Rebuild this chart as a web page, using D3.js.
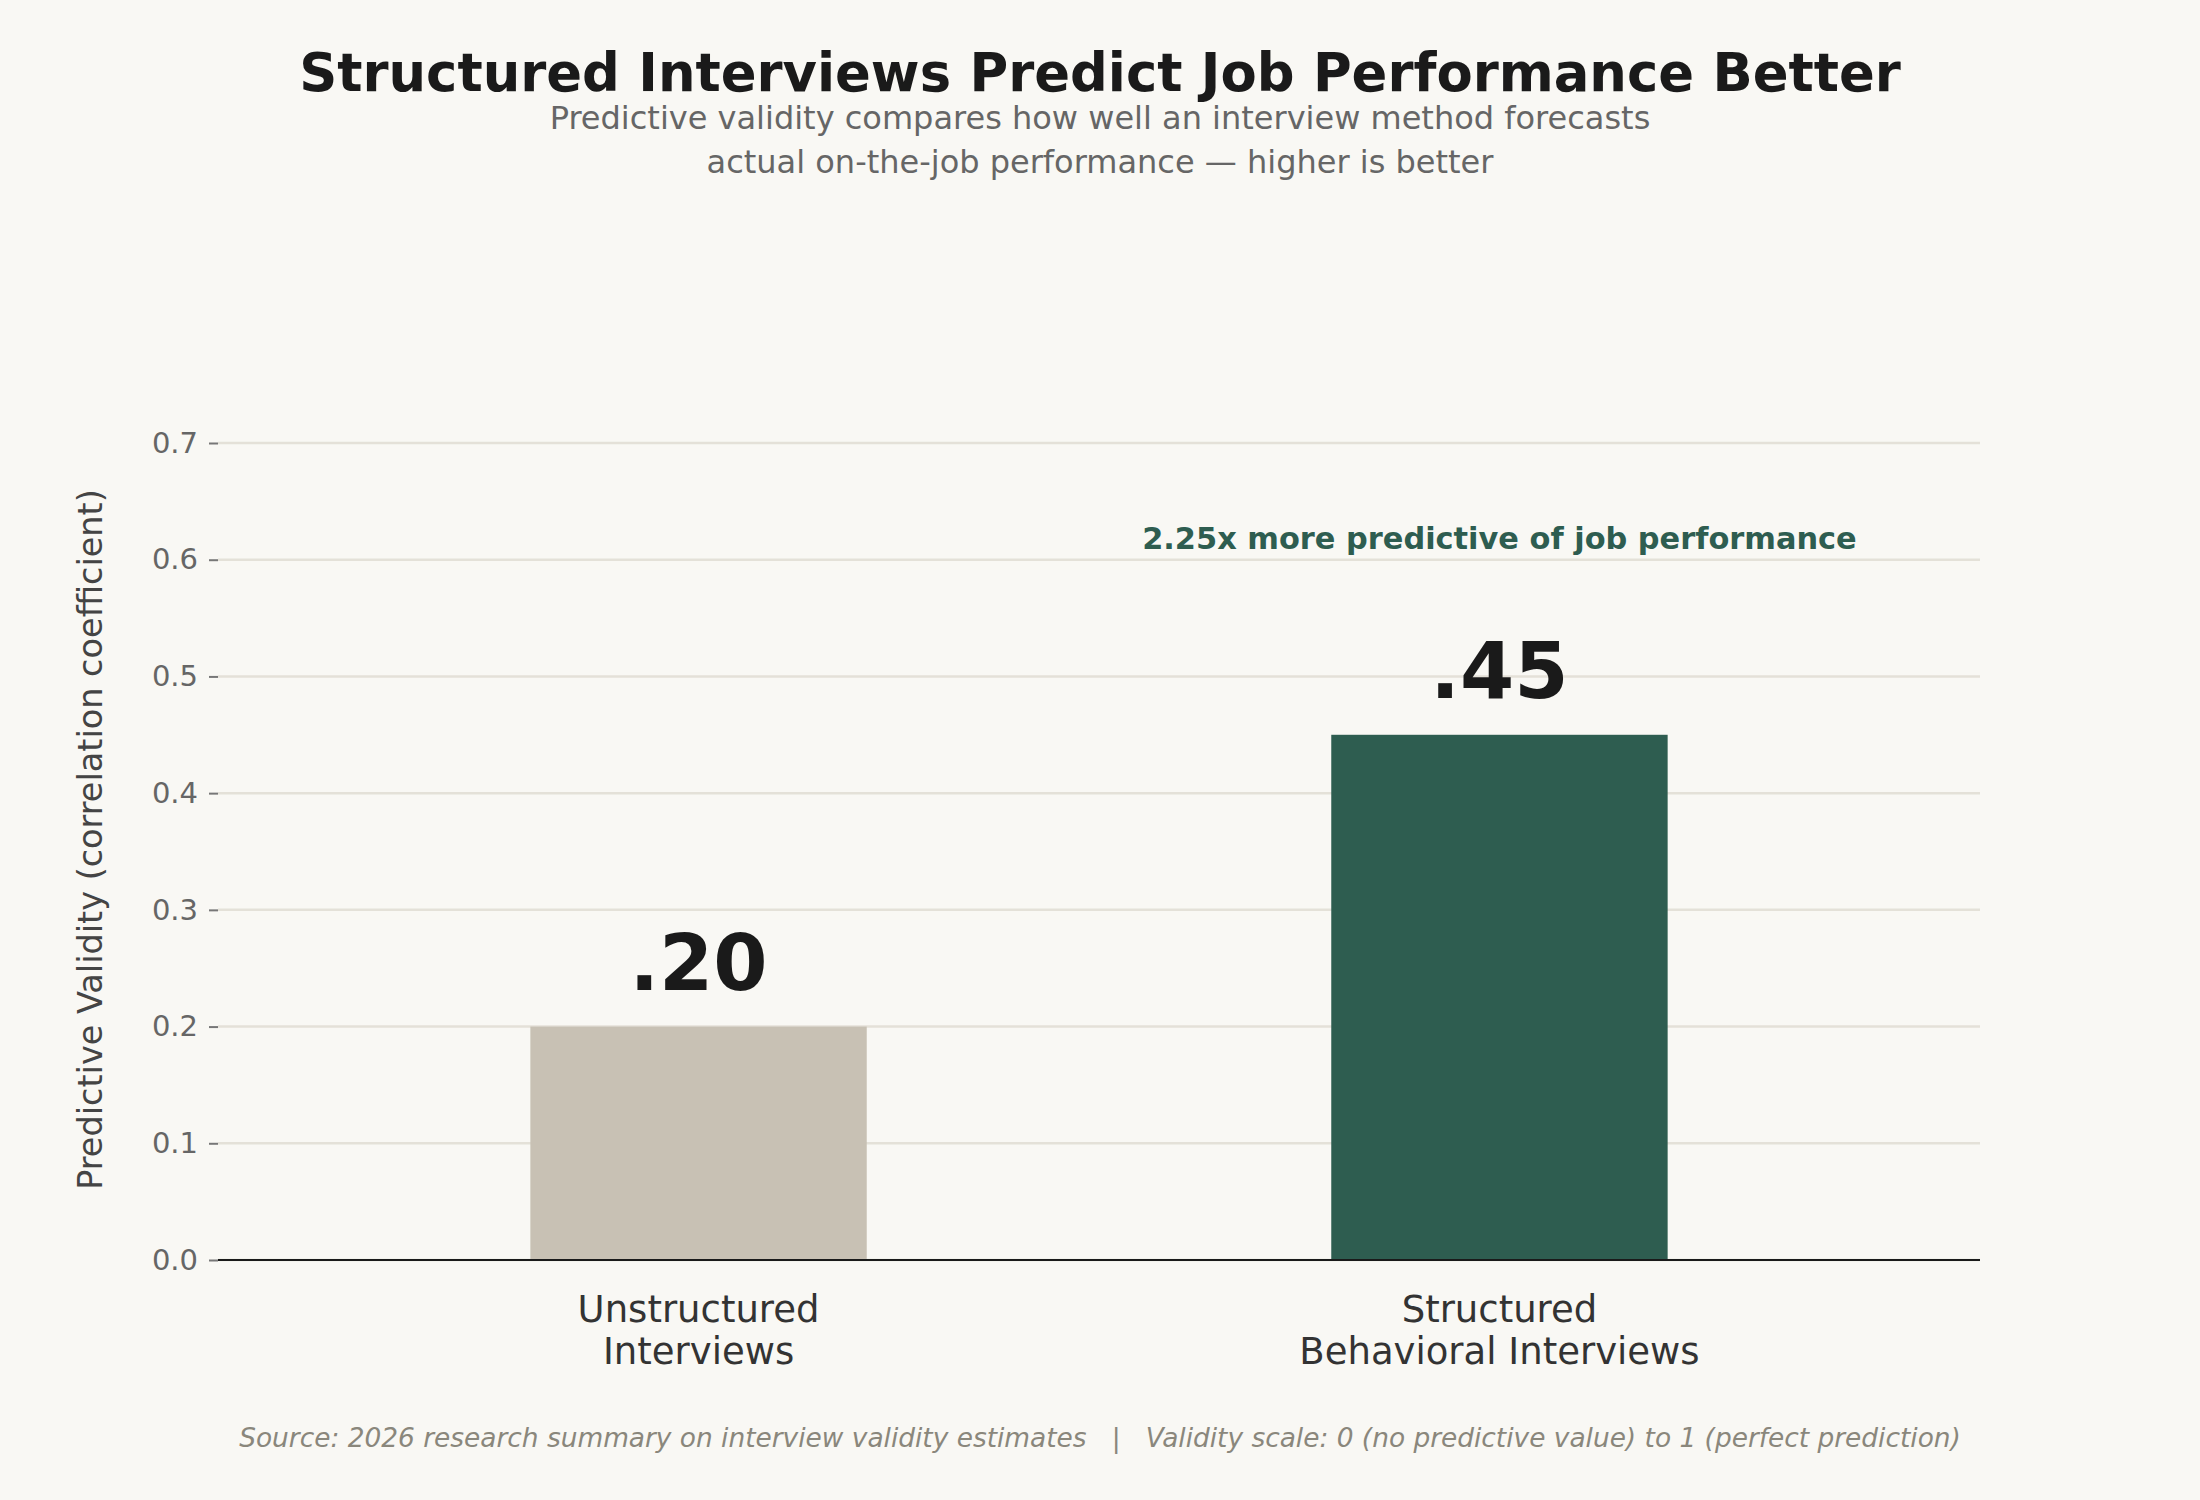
<!DOCTYPE html>
<html>
<head>
<meta charset="utf-8">
<script src="https://cdn.jsdelivr.net/npm/d3@7"></script>
<style>
  body { margin: 0; background: #f9f8f4; }
  svg { display: block; font-family: "DejaVu Sans", sans-serif; }
</style>
</head>
<body>
<div id="chart"></div>
<script>
// chart data
var categories = ["Unstructured\nInterviews", "Structured\nBehavioral Interviews"];
var values = [0.20, 0.45];
var barColors = ["#c8c1b4", "#2e5d50"];
var yTicks = [0, 0.1, 0.2, 0.3, 0.4, 0.5, 0.6, 0.7];

var titleText = "Structured Interviews Predict Job Performance Better";
var subtitleLines = ["Predictive validity compares how well an interview method forecasts",
                     "actual on-the-job performance \u2014 higher is better"];
var yLabel = "Predictive Validity (correlation coefficient)";
var annotationText = "2.25x more predictive of job performance";
var annotationValue = 0.618;
var footerText = "Source: 2026 research summary on interview validity estimates   |   Validity scale: 0 (no predictive value) to 1 (perfect prediction)";

var width = 2200;
var height = 1500;

var plot = {left: 218, right: 1980, top: 443, bottom: 1260};

var svg = d3.select("#chart")
            .append("svg")
            .attr("width", width)
            .attr("height", height);

svg.append("rect")
   .attr("width", width)
   .attr("height", height)
   .attr("fill", "#f9f8f4");

var x = d3.scaleBand()
          .domain(categories)
          .range([plot.left, plot.right])
          .paddingInner(0.58)
          .paddingOuter(0.39);

var y = d3.scaleLinear()
          .domain([0, 0.7])
          .range([plot.bottom, plot.top]);

// gridlines
svg.append("g")
   .selectAll("line")
   .data(yTicks)
   .enter()
   .append("line")
   .attr("x1", plot.left)
   .attr("x2", plot.right)
   .attr("y1", d => y(d))
   .attr("y2", d => y(d))
   .attr("stroke", "#e4e1d8")
   .attr("stroke-width", 2.5);

// y axis
var yAxis = svg.append("g")
   .attr("transform", "translate(" + plot.left + ",0)")
   .call(d3.axisLeft(y).tickValues(yTicks).tickFormat(d3.format(".1f")).tickSize(9).tickPadding(11));

yAxis.select(".domain").remove();
yAxis.selectAll(".tick line")
     .attr("stroke", "#777")
     .attr("stroke-width", 2);
yAxis.selectAll(".tick text")
     .attr("fill", "#666")
     .style("font-size", "29px")
     .style("font-family", "DejaVu Sans");

// bars
svg.append("g")
   .selectAll("rect")
   .data(values)
   .enter()
   .append("rect")
   .attr("x", (d, i) => x(categories[i]))
   .attr("y", d => y(d))
   .attr("width", x.bandwidth())
   .attr("height", d => y(0) - y(d))
   .attr("fill", (d, i) => barColors[i]);

// baseline spine
svg.append("line")
   .attr("x1", plot.left)
   .attr("x2", plot.right)
   .attr("y1", y(0))
   .attr("y2", y(0))
   .attr("stroke", "#1a1a1a")
   .attr("stroke-width", 2);

// value labels
svg.append("g")
   .selectAll("text")
   .data(values)
   .enter()
   .append("text")
   .attr("x", (d, i) => x(categories[i]) + x.bandwidth() / 2)
   .attr("y", d => y(d) - 37)
   .attr("text-anchor", "middle")
   .attr("fill", "#1a1a1a")
   .style("font-size", "78px")
   .style("font-weight", "bold")
   .text(d => d3.format(".2f")(d).replace(/^0/, ""));

// x axis labels (two lines each)
var xAxis = svg.append("g")
   .attr("transform", "translate(0," + plot.bottom + ")")
   .call(d3.axisBottom(x).tickSize(0).tickPadding(0));

xAxis.select(".domain").remove();
xAxis.selectAll(".tick text").each(function(d) {
  var t = d3.select(this);
  t.text(null)
   .attr("y", 0)
   .attr("dy", null)
   .attr("fill", "#333")
   .style("font-size", "37px")
   .style("font-family", "DejaVu Sans");
  d.split("\n").forEach(function(line, k) {
    t.append("tspan")
     .attr("x", 0)
     .attr("y", 62 + k * 42)
     .text(line);
  });
});

// annotation over the structured bar
svg.append("text")
   .attr("x", x(categories[1]) + x.bandwidth() / 2)
   .attr("y", y(annotationValue))
   .attr("dy", "0.35em")
   .attr("text-anchor", "middle")
   .attr("fill", "#2e5d50")
   .style("font-size", "30.4px")
   .style("font-weight", "bold")
   .text(annotationText);

// y axis title
svg.append("text")
   .attr("transform", "translate(102," + ((plot.top + plot.bottom) / 2 - 12) + ") rotate(-90)")
   .attr("text-anchor", "middle")
   .attr("fill", "#444")
   .style("font-size", "33.5px")
   .text(yLabel);

// title + subtitle
svg.append("text")
   .attr("x", width / 2)
   .attr("y", 91)
   .attr("text-anchor", "middle")
   .attr("fill", "#1a1a1a")
   .style("font-size", "52.8px")
   .style("font-weight", "bold")
   .text(titleText);

svg.append("g")
   .selectAll("text")
   .data(subtitleLines)
   .enter()
   .append("text")
   .attr("x", width / 2)
   .attr("y", (d, i) => 129 + i * 44)
   .attr("text-anchor", "middle")
   .attr("fill", "#666")
   .style("font-size", "32px")
   .text(d => d);

// footer
svg.append("text")
   .attr("x", width / 2)
   .attr("y", 1447)
   .attr("text-anchor", "middle")
   .attr("fill", "#8a877c")
   .style("font-size", "26.4px")
   .style("font-style", "italic")
   .style("white-space", "pre")
   .text(footerText);
</script>
</body>
</html>
